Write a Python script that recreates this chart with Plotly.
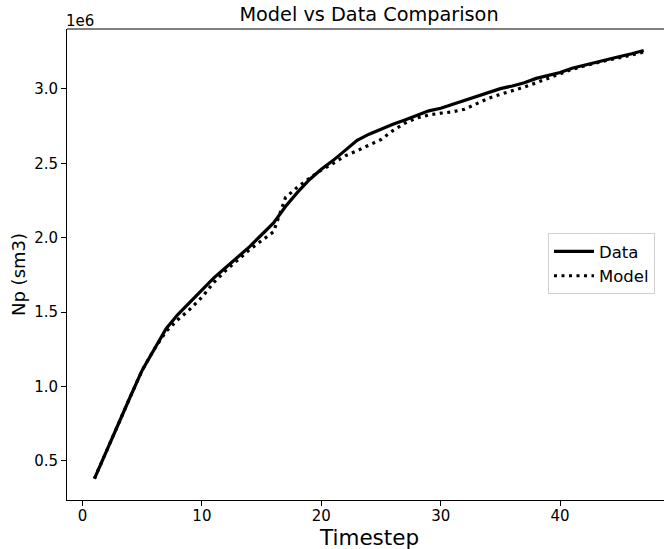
import plotly.graph_objects as go

timestep = list(range(1, 48))

data_np = [0.381, 0.567, 0.753, 0.931, 1.110, 1.255, 1.389, 1.485, 1.565, 1.645,
           1.730, 1.800, 1.870, 1.940, 2.020, 2.100, 2.210, 2.305, 2.390, 2.460,
           2.520, 2.585, 2.655, 2.696, 2.730, 2.763, 2.792, 2.823, 2.853, 2.870,
           2.897, 2.924, 2.946, 2.975, 3.002, 3.020, 3.042, 3.071, 3.091, 3.110,
           3.139, 3.160, 3.178, 3.198, 3.218, 3.237, 3.259]
data_np = [v * 1e6 for v in data_np]

model_np = [0.381, 0.567, 0.753, 0.931, 1.110, 1.250, 1.370, 1.450, 1.520, 1.600,
            1.700, 1.780, 1.850, 1.920, 1.980, 2.040, 2.270, 2.340, 2.400, 2.455,
            2.500, 2.550, 2.585, 2.620, 2.660, 2.720, 2.770, 2.805, 2.825, 2.837,
            2.846, 2.864, 2.901, 2.937, 2.964, 2.987, 3.013, 3.042, 3.071, 3.102,
            3.132, 3.154, 3.176, 3.194, 3.210, 3.228, 3.248]
model_np = [v * 1e6 for v in model_np]

x_tickvals = [0, 10, 20, 30, 40]
y_tickvals = [0.5e6, 1.0e6, 1.5e6, 2.0e6, 2.5e6, 3.0e6]
y_ticktext = ["0.5", "1.0", "1.5", "2.0", "2.5", "3.0"]

FONT = "DejaVu Sans"

fig = go.Figure()
fig.add_trace(go.Scatter(x=timestep, y=data_np, mode="lines", name="Data",
                         line=dict(color="black", width=3.2)))
fig.add_trace(go.Scatter(x=timestep, y=model_np, mode="lines", name="Model",
                         line=dict(color="black", width=3.2, dash="3px,4.5px")))

fig.update_layout(
    width=664, height=549,
    margin=dict(l=67, r=0, t=29, b=49, autoexpand=False),
    paper_bgcolor="white", plot_bgcolor="white",
    font=dict(family=FONT, color="black", size=15),
    title=dict(text="Model vs Data Comparison", x=369 / 664, xanchor="center",
               xref="container", y=1 - 14 / 549, yanchor="middle",
               font=dict(size=19.3, family=FONT, color="black")),
    legend=dict(x=(548 - 67) / 597, y=0.502, xanchor="left", yanchor="middle",
                bordercolor="#d0d0d0", borderwidth=1, bgcolor="white",
                itemwidth=40,
                font=dict(size=16.5, family=FONT)),
    showlegend=True,
)

fig.update_xaxes(range=[-1.3, 48.7], tickvals=x_tickvals, ticks="outside",
                 ticklen=5, tickcolor="black", showgrid=False, zeroline=False,
                 showline=True, linecolor="black", linewidth=1, mirror=False,
                 tickfont=dict(size=15), automargin=False, ticklabelstandoff=-3)
fig.update_yaxes(range=[0.237e6, 3.403e6], tickvals=y_tickvals, ticktext=y_ticktext,
                 ticks="outside", ticklen=5, tickcolor="black", showgrid=False,
                 zeroline=False, showline=True, linecolor="black", linewidth=1,
                 tickfont=dict(size=15), automargin=False)

# axis titles
fig.add_annotation(text="Timestep", xref="paper", yref="paper",
                   x=(369 - 67) / 597, y=0, xanchor="center", yanchor="middle",
                   yshift=-37, showarrow=False, font=dict(size=21.5, family=FONT))
fig.add_annotation(text="Np (sm3)", xref="paper", yref="paper",
                   x=0, y=(500 - 275) / 471, xanchor="center", yanchor="middle",
                   xshift=-49, textangle=-90, showarrow=False,
                   font=dict(size=18, family=FONT))

# top spine
fig.add_shape(type="line", xref="paper", yref="paper", x0=0, x1=1, y0=1, y1=1,
              line=dict(color="black", width=1))

fig.add_annotation(text="1e6", xref="paper", yref="paper", x=0, y=1,
                   xanchor="left", yanchor="bottom", showarrow=False,
                   font=dict(size=15, family=FONT), xshift=-3, yshift=-3)

fig.write_html("out.html", config={"displayModeBar": False},
               post_script="document.body.style.margin='0';document.body.style.padding='0';")
